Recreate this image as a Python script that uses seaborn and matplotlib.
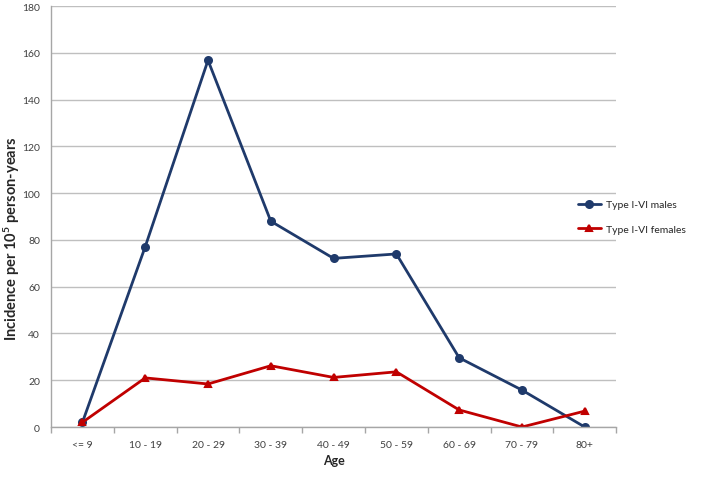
import matplotlib
matplotlib.use("Agg")
import matplotlib.pyplot as plt
import seaborn as sns
import pandas as pd
import numpy as np

ages = ["<= 9", "10 - 19", "20 - 29", "30 - 39", "40 - 49", "50 - 59", "60 - 69", "70 - 79", "80+"]
males = [2.0, 77.1, 156.8, 88.0, 72.1, 74.0, 29.6, 15.8, 0.0]
females = [2.0, 21.0, 18.4, 26.2, 21.2, 23.6, 7.3, 0.0, 6.8]
series_names = ["Type I-VI males", "Type I-VI females"]
colors = ["#1F3A6B", "#C00000"]
yticks = [0, 20, 40, 60, 80, 100, 120, 140, 160, 180]

df = pd.DataFrame({
    "Age": ages * 2,
    "value": males + females,
    "series": [series_names[0]] * len(ages) + [series_names[1]] * len(ages),
})

sns.set_theme(style="white")
plt.rcParams["font.family"] = ["Lato", "DejaVu Sans"]
plt.rcParams["mathtext.default"] = "regular"

fig = plt.figure(figsize=(7.09, 4.85), dpi=100)
ax = fig.add_axes([0.072, 0.1175, 0.797, 0.868])

sns.pointplot(data=df, x="Age", y="value", hue="series", order=ages,
              hue_order=series_names, palette=colors, markers=["o", "^"],
              linestyles=["-", "-"], markersize=5, linewidth=2.0, ax=ax,
              errorbar=None)

ax.set_ylim(0, 180)
ax.set_xlim(-0.5, len(ages) - 0.5)
ax.set_yticks(yticks)
ax.yaxis.grid(True, color="#BFBFBF", linewidth=1)
ax.set_axisbelow(True)
for s in ["top", "right"]:
    ax.spines[s].set_visible(False)
for s in ["left", "bottom"]:
    ax.spines[s].set_color("#A6A6A6")
    ax.spines[s].set_linewidth(1)

ax.set_xticks(np.arange(-0.5, len(ages), 1.0), minor=True)
ax.tick_params(axis="x", which="major", length=0, labelsize=7.5, pad=9, colors="#000000")
ax.tick_params(axis="x", which="minor", length=4, color="#A6A6A6", direction="out", bottom=True)
ax.tick_params(axis="y", which="major", length=0, labelsize=7.5, pad=8)
for lbl in ax.get_xticklabels() + ax.get_yticklabels():
    lbl.set_color("#404040")

ax.set_xlabel("Age", fontsize=9, fontweight="bold", labelpad=4)
ax.set_ylabel(r"Incidence per 10$^{5}$ person-years", fontsize=10.5, fontweight="bold")
ax.yaxis.label.set_va("top")
ax.yaxis.set_label_coords(-0.087, 0.451)

ax.legend().remove()
handles, labels = ax.get_legend_handles_labels()
fig.legend(handles, labels, loc="center left",
           bbox_to_anchor=(578 / 709, 1 - 218 / 485), frameon=False,
           fontsize=7.5, handlelength=2.2, handletextpad=0.5,
           labelspacing=1.5, borderaxespad=0, borderpad=0)

fig.savefig("out.png", dpi=100)
